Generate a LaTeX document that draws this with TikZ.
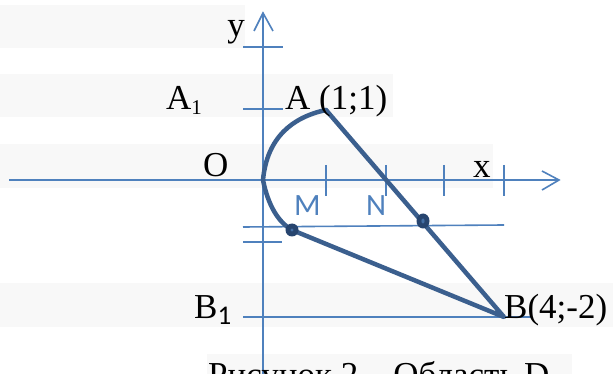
\documentclass[tikz,border=0pt]{standalone}
\usepackage{fontspec}
\setmainfont{Liberation Serif}
\newfontfamily\calib{Carlito}
\definecolor{axisblue}{HTML}{4F81BD}
\definecolor{thickblue}{HTML}{3B5F8E}
\definecolor{dotblue}{HTML}{27456F}
\definecolor{hl}{HTML}{F8F8F8}
\begin{document}
\begin{tikzpicture}[x=1pt,y=-1pt,
  axisline/.style={draw=axisblue,line width=1.6pt},
  thickline/.style={draw=thickblue,line width=4.5pt,line join=round,line cap=round},
  lbl/.style={inner sep=0pt,font=\fontsize{35}{40}\selectfont},
  mlbl/.style={inner sep=0pt,text=axisblue,font=\calib\fontsize{31}{34}\selectfont},
  hlbox/.style={fill=hl,draw=none}]
\useasboundingbox (0,0) rectangle (613,374);
\clip (0,0) rectangle (613,374);
\fill[white] (0,0) rectangle (613,374);
% highlight backgrounds
\path[hlbox] (0,5) rectangle (245,48);
\path[hlbox] (0,74) rectangle (393,117);
\path[hlbox] (0,144) rectangle (493,188);
\path[hlbox] (0,283) rectangle (613,327);
\path[hlbox] (207,354) rectangle (572,374);
% coordinates
\coordinate (O) at (263,180);
\coordinate (A) at (326,110);
\coordinate (B) at (504,317);
\coordinate (M) at (292,230);
\coordinate (N) at (423,221);
\coordinate (ytop) at (263,13);
\coordinate (ybot) at (263,380);
\coordinate (xl) at (9,180);
\coordinate (xr) at (559,180);
% axes
\draw[axisline] (ybot) -- (ytop);
\draw[axisline,line join=miter] (254,31) -- (ytop) -- (273,31);
\draw[axisline] (xl) -- (xr);
\draw[axisline,line join=miter] (542,171) -- (xr) -- (542,190);
% y ticks
\coordinate (t1a) at (243,47); \coordinate (t1b) at (283,47);
\coordinate (t2a) at (243,109); \coordinate (t2b) at (283,109);
\coordinate (t3a) at (243,242); \coordinate (t3b) at (282,242);
\draw[axisline] (t1a) -- (t1b);
\draw[axisline] (t2a) -- (t2b);
\draw[axisline] (t3a) -- (t3b);
\coordinate (hMa) at (243,227); \coordinate (hMb) at (504,225);
\draw[axisline] (hMa) -- (hMb);
\coordinate (hBa) at (243,317); \coordinate (hBb) at (532,317);
\draw[axisline] (hBa) -- (hBb);
% x ticks
\foreach \xx in {326,386,444,504}{
  \draw[axisline] (\xx,165) -- (\xx,196);
}
% thick region boundary
\draw[thickline] (A) .. controls (293,117) and (267,137) .. (O);
\draw[thickline] (O) .. controls (268,205) and (278,222) .. (M);
\draw[thickline] (M) -- (B) -- (A);
% dots
\fill[dotblue] (M) circle (6.5);
\fill[axisblue!70!dotblue] (M) circle (1.6);
\fill[dotblue] (N) ellipse (6.5 and 7.5);
\fill[axisblue!70!dotblue] (N) ellipse (1.6 and 2.5);
% labels
\node[lbl,anchor=base east] (ly) at (245,37) {y};
\node[lbl,anchor=base west] (lA1) at (166,110) {A\raisebox{-5pt}{\fontsize{21}{22}\selectfont 1}};
\node[lbl,anchor=base west] (lO) at (203,177) {O};
\node[lbl,anchor=base west] (lA) at (285,110) {A (1;1)};
\node[lbl,anchor=base west] (lx) at (473,178) {x};
\node[lbl,anchor=base west] (lB1) at (194,318) {B\raisebox{-6pt}{\calib\fontsize{27}{28}\selectfont 1}};
\node[lbl,anchor=base west] (lB) at (504,318) {B(4;-2)};
\node[mlbl,anchor=base west] (lM) at (294,215) {M};
\node[mlbl,anchor=base west] (lN) at (366,215) {N};
\node[lbl,anchor=base west] (cap) at (208,386) {Рисунок 2 – Область D};
\end{tikzpicture}
\end{document}
